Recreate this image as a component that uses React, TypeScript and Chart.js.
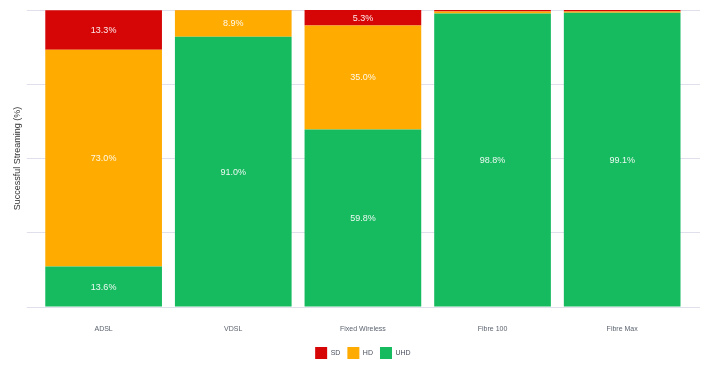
import React, { useEffect, useRef } from "react";
import { Chart, registerables } from "chart.js";

Chart.register(...registerables);

const categories = ["ADSL", "VDSL", "Fixed Wireless", "Fibre 100", "Fibre Max"];
const uhdValues = [13.6, 91.0, 59.8, 98.8, 99.1];
const hdValues = [73.0, 8.9, 35.0, 0.7, 0.4];
const sdValues = [13.3, 0.1, 5.3, 0.5, 0.5];
const yTicks = [0, 25, 50, 75, 100];

const FONT = 'Arial, "Liberation Sans", sans-serif';

const valueLabels = {
  id: "valueLabels",
  afterDatasetsDraw(chart: any) {
    const ctx = chart.ctx;
    ctx.save();
    ctx.font = `9px ${FONT}`;
    ctx.fillStyle = "rgba(255,255,255,0.92)";
    ctx.textAlign = "center";
    ctx.textBaseline = "middle";
    chart.data.datasets.forEach((ds: any, di: number) => {
      const meta = chart.getDatasetMeta(di);
      meta.data.forEach((el: any, i: number) => {
        const v = ds.data[i];
        if (v < 3) return;
        const y = (el.y + el.base) / 2;
        ctx.fillText(v.toFixed(1) + "%", el.x, y + 0.5);
      });
    });
    ctx.restore();
  },
};

// centre the legend on the plot area instead of the whole canvas
const legendOnPlot = {
  id: "legendOnPlot",
  afterLayout(chart: any) {
    const lg = chart.legend;
    if (!lg) return;
    lg.left = chart.chartArea.left;
    lg.right = chart.chartArea.right;
    lg.width = lg.right - lg.left;
  },
};

export default function App() {
  const ref = useRef<HTMLCanvasElement>(null);
  useEffect(() => {
    if (!ref.current) return;
    const chart = new Chart(ref.current, {
      type: "bar",
      data: {
        labels: categories,
        datasets: [
          { label: "UHD", data: uhdValues, backgroundColor: "#16ba5f", borderWidth: 0 },
          { label: "HD", data: hdValues, backgroundColor: "#ffab00", borderWidth: 0 },
          { label: "SD", data: sdValues, backgroundColor: "#d70606", borderWidth: 0 },
        ],
      },
      plugins: [valueLabels, legendOnPlot],
      options: {
        animation: false,
        responsive: true,
        maintainAspectRatio: false,
        layout: { padding: { top: 2, bottom: 0, left: 0, right: 0 } },
        datasets: { bar: { categoryPercentage: 1, barPercentage: 0.9 } },
        plugins: {
          legend: {
            position: "bottom",
            reverse: true,
            labels: {
              boxWidth: 12,
              boxHeight: 12,
              padding: 7,
              color: "#4a5060",
              font: { size: 7, family: FONT },
            },
          },
          tooltip: { enabled: false },
        },
        scales: {
          x: {
            stacked: true,
            grid: { display: false, drawTicks: false },
            border: { display: false },
            ticks: {
              color: "#5c6470",
              padding: 18.5,
              font: { size: 7, family: FONT, lineHeight: 1 },
            },
            afterFit: (axis: any) => {
              axis.height = axis.height - 11;
            },
          },
          y: {
            stacked: true,
            min: 0,
            max: 100,
            afterBuildTicks: (axis: any) => {
              axis.ticks = yTicks.map((v) => ({ value: v }));
            },
            grid: { color: "#e0e0ec", tickLength: 12, tickColor: "#e0e0ec" },
            border: { display: false },
            ticks: { display: false },
            title: {
              display: true,
              text: "Successful Streaming (%)",
              color: "#333",
              font: { size: 9, family: FONT },
              padding: { top: 4, bottom: 4 },
            },
          },
          y2: {
            position: "right",
            display: true,
            min: 0,
            max: 100,
            afterBuildTicks: (axis: any) => {
              axis.ticks = yTicks.map((v) => ({ value: v }));
            },
            grid: { color: "#e0e0ec", tickLength: 13, tickColor: "#e0e0ec", drawOnChartArea: false },
            border: { display: false },
            ticks: { display: false },
          },
        },
      },
    });
    return () => chart.destroy();
  }, []);
  return (
    <div style={{ position: "relative", width: "100%", height: 361 }}>
      <canvas ref={ref} />
    </div>
  );
}
